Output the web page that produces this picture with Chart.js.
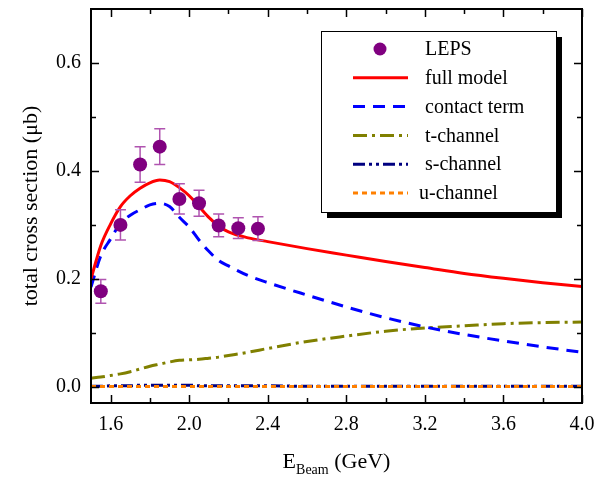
<!DOCTYPE html>
<html>
<head>
<meta charset="utf-8">
<script src="https://cdn.jsdelivr.net/npm/chart.js@4.4.1/dist/chart.umd.min.js"></script>
<style>
  body { margin: 0; background: #fff; }
  #wrap { width: 596px; height: 479px; }
</style>
</head>
<body>
<div id="wrap"><canvas id="xsec" width="596" height="479"></canvas></div>
<script>
// LEPS data
const lepsE = [1.55, 1.65, 1.75, 1.85, 1.95, 2.05, 2.15, 2.25, 2.35];
const lepsSigma = [0.177, 0.300, 0.412, 0.445, 0.348, 0.340, 0.299, 0.294, 0.293];
const lepsErr = [0.022, 0.028, 0.033, 0.033, 0.028, 0.024, 0.021, 0.019, 0.022];

// model curves
const energies = [1.5, 1.55, 1.6, 1.65, 1.7, 1.75, 1.8, 1.85, 1.9, 1.95, 2.0, 2.05, 2.1,
  2.15, 2.2, 2.3, 2.4, 2.6, 2.8, 3.0, 3.2, 3.4, 3.6, 3.8, 4.0];
const fullModel = [0.200, 0.262, 0.302, 0.334, 0.354, 0.368, 0.378, 0.383, 0.380, 0.369, 0.354,
  0.334, 0.314, 0.298, 0.287, 0.276, 0.269, 0.256, 0.244, 0.232, 0.221, 0.210, 0.201, 0.193, 0.186];
const contactTerm = [0.185, 0.243, 0.274, 0.303, 0.318, 0.328, 0.337, 0.340, 0.334, 0.314, 0.296,
  0.272, 0.251, 0.234, 0.224, 0.206, 0.193, 0.170, 0.148, 0.128, 0.111, 0.097, 0.085, 0.074, 0.064];
const tChannel = [0.016, 0.018, 0.021, 0.024, 0.028, 0.033, 0.038, 0.042, 0.046, 0.049, 0.050,
  0.051, 0.053, 0.055, 0.058, 0.064, 0.071, 0.084, 0.094, 0.103, 0.109, 0.113, 0.117, 0.119, 0.120];
const sChannel = [0.001, 0.001, 0.002, 0.002, 0.002, 0.003, 0.003, 0.003, 0.003, 0.003, 0.003,
  0.002, 0.002, 0.002, 0.002, 0.002, 0.002, 0.001, 0.001, 0.001, 0.001, 0.001, 0.001, 0.001, 0.001];
const uChannel = [0.0005, 0.0005, 0.0005, 0.0005, 0.0005, 0.0005, 0.0005, 0.0005, 0.0005, 0.0005, 0.0005,
  0.0005, 0.0005, 0.0005, 0.0005, 0.0005, 0.0005, 0.0005, 0.0005, 0.0005, 0.0005, 0.0005, 0.0005, 0.0005, 0.0005];

// axis ticks
const xTicks = [1.6, 2.0, 2.4, 2.8, 3.2, 3.6, 4.0];
const xMinor = [1.8, 2.2, 2.6, 3.0, 3.4, 3.8];
const yTicks = [0.0, 0.2, 0.4, 0.6];
const yMinor = [0.1, 0.3, 0.5];

const serif = 'Liberation Serif';

function pts(xs, ys) {
  return xs.map((x, i) => ({ x: x, y: ys[i] }));
}

function curve(label, ys, color, dash, order) {
  return {
    type: 'line',
    label: label,
    data: pts(energies, ys),
    borderColor: color,
    backgroundColor: color,
    borderWidth: 3,
    borderDash: dash,
    borderCapStyle: 'butt',
    pointRadius: 0,
    cubicInterpolationMode: 'monotone',
    order: order
  };
}

// error bars under the LEPS dots
const errorBars = {
  id: 'errorBars',
  beforeDatasetDraw(chart, args) {
    if (args.index !== 0) return;
    const { ctx, scales: { x, y } } = chart;
    ctx.save();
    ctx.strokeStyle = '#b054b0';
    ctx.lineWidth = 1.5;
    lepsE.forEach((e, i) => {
      const px = x.getPixelForValue(e);
      const top = y.getPixelForValue(lepsSigma[i] + lepsErr[i]);
      const bot = y.getPixelForValue(lepsSigma[i] - lepsErr[i]);
      ctx.beginPath();
      ctx.moveTo(px, top); ctx.lineTo(px, bot);
      ctx.moveTo(px - 5.5, top); ctx.lineTo(px + 5.5, top);
      ctx.moveTo(px - 5.5, bot); ctx.lineTo(px + 5.5, bot);
      ctx.stroke();
    });
    ctx.restore();
  }
};

// frame with inward ticks on all sides, x title with subscript, boxed legend
const frame = {
  id: 'frame',
  afterDraw(chart) {
    const { ctx, chartArea: a, scales: { x, y } } = chart;
    ctx.save();
    ctx.strokeStyle = '#000';
    ctx.lineWidth = 2;
    ctx.strokeRect(a.left, a.top, a.right - a.left, a.bottom - a.top);
    ctx.lineWidth = 1.5;
    ctx.beginPath();
    const tx = (v, len) => {
      const p = Math.round(x.getPixelForValue(v)) + 0.5;
      ctx.moveTo(p, a.bottom); ctx.lineTo(p, a.bottom - len);
      ctx.moveTo(p, a.top); ctx.lineTo(p, a.top + len);
    };
    const ty = (v, len) => {
      const p = Math.round(y.getPixelForValue(v)) + 0.5;
      ctx.moveTo(a.left, p); ctx.lineTo(a.left + len, p);
      ctx.moveTo(a.right, p); ctx.lineTo(a.right - len, p);
    };
    xTicks.forEach(v => tx(v, 8));
    xMinor.forEach(v => tx(v, 5));
    yTicks.forEach(v => ty(v, 8));
    yMinor.forEach(v => ty(v, 5));
    ctx.stroke();

    // x title: E_Beam (GeV)
    ctx.fillStyle = '#000';
    ctx.textBaseline = 'alphabetic';
    ctx.textAlign = 'left';
    const big = '22px "' + serif + '"';
    const small = '14px "' + serif + '"';
    ctx.font = big; const wE = ctx.measureText('E').width;
    const wRest = ctx.measureText(' (GeV)').width;
    ctx.font = small; const wSub = ctx.measureText('Beam').width;
    let sx = (a.left + a.right) / 2 - (wE + wSub + wRest) / 2;
    const base = 468;
    ctx.font = big; ctx.fillText('E', sx, base); sx += wE;
    ctx.font = small; ctx.fillText('Beam', sx, base + 6); sx += wSub;
    ctx.font = big; ctx.fillText(' (GeV)', sx, base);

    // legend
    const L = { left: 321, top: 31, w: 235, h: 181 };
    ctx.fillStyle = '#000';
    ctx.fillRect(L.left + 6, L.top + 6, L.w, L.h);
    ctx.fillStyle = '#fff';
    ctx.fillRect(L.left, L.top, L.w, L.h);
    ctx.lineWidth = 1;
    ctx.strokeStyle = '#000';
    ctx.strokeRect(L.left + 0.5, L.top + 0.5, L.w, L.h);
    ctx.font = '20px "' + serif + '"';
    ctx.textBaseline = 'middle';
    chart.data.datasets.forEach((ds, i) => {
      const cy = 49 + i * 28.8;
      if (ds.type === 'scatter') {
        ctx.fillStyle = ds.backgroundColor;
        ctx.beginPath();
        ctx.arc(380, cy, 6.5, 0, Math.PI * 2);
        ctx.fill();
      } else {
        ctx.strokeStyle = ds.borderColor;
        ctx.lineWidth = 3;
        ctx.setLineDash(ds.borderDash || []);
        ctx.beginPath();
        ctx.moveTo(353, cy); ctx.lineTo(408, cy);
        ctx.stroke();
        ctx.setLineDash([]);
      }
      ctx.fillStyle = '#000';
      ctx.fillText(ds.label, i === 5 ? 419 : 425, cy + 1);
    });
    ctx.restore();
  }
};

Chart.defaults.font.family = serif;
Chart.defaults.font.size = 20;
Chart.defaults.color = '#000';

new Chart(document.getElementById('xsec'), {
  data: {
    datasets: [
      {
        type: 'scatter',
        label: 'LEPS',
        data: pts(lepsE, lepsSigma),
        backgroundColor: '#800080',
        borderColor: '#800080',
        pointRadius: 7,
        pointBorderWidth: 0,
        order: 0
      },
      curve('full model', fullModel, '#ff0000', [], 2),
      curve('contact term', contactTerm, '#0000ff', [12, 8], 3),
      curve('t-channel', tChannel, '#808000', [14, 5, 3, 5], 4),
      curve('s-channel', sChannel, '#000080', [12, 4, 3, 4, 3, 4], 5),
      curve('u-channel', uChannel, '#ff8000', [5, 4], 1)
    ]
  },
  options: {
    responsive: false,
    animation: false,
    layout: { padding: { left: 0, right: 14, top: 9, bottom: 0 } },
    plugins: { legend: { display: false }, tooltip: { enabled: false } },
    scales: {
      x: {
        type: 'linear',
        min: 1.5,
        max: 4.0,
        grid: { display: false, drawTicks: false },
        border: { display: false },
        afterBuildTicks: s => { s.ticks = xTicks.map(v => ({ value: v })); },
        afterFit: s => { s.height = 76; s.paddingLeft = 0; s.paddingRight = 0; },
        ticks: { padding: 10, maxRotation: 0, autoSkip: false, callback: v => v.toFixed(1) }
      },
      y: {
        type: 'linear',
        min: -0.03,
        max: 0.7,
        grid: { display: false, drawTicks: false },
        border: { display: false },
        afterBuildTicks: s => { s.ticks = yTicks.map(v => ({ value: v })); },
        afterFit: s => { s.width = 91; s.paddingTop = 0; s.paddingBottom = 0; },
        ticks: { padding: 10, callback: v => v.toFixed(1) },
        title: {
          display: true,
          text: 'total cross section (μb)',
          font: { size: 22, family: serif },
          padding: { top: 18, bottom: 0 }
        }
      }
    }
  },
  plugins: [errorBars, frame]
});
</script>
</body>
</html>
